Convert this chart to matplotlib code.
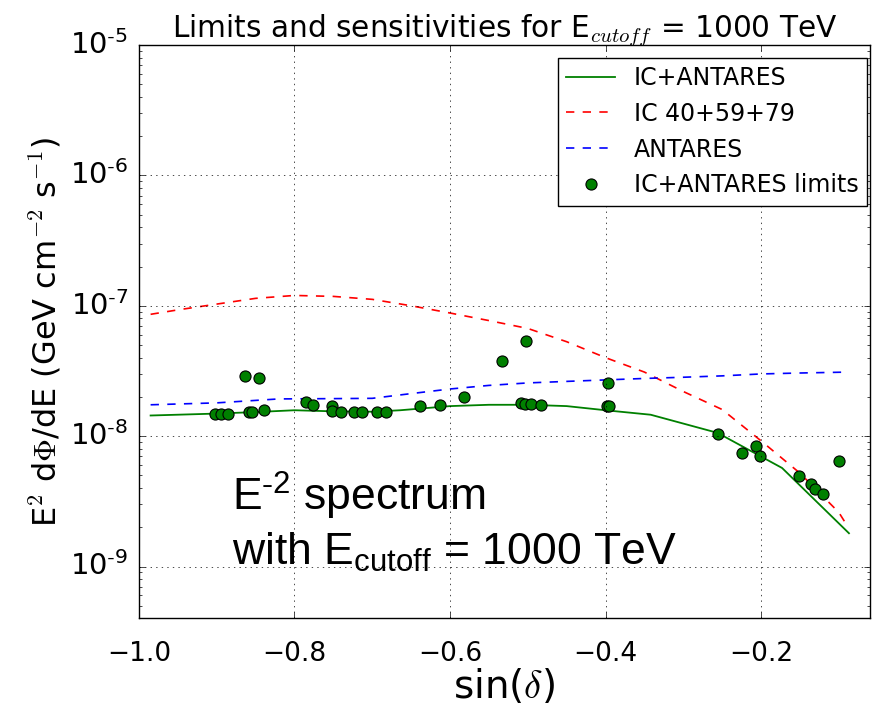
import numpy as np
import matplotlib
matplotlib.use("Agg")
import matplotlib.pyplot as plt
from matplotlib.ticker import FixedLocator, LogLocator, FuncFormatter, NullFormatter

plt.style.use('classic')
plt.rcParams['mathtext.fontset'] = 'cm'
plt.rcParams['font.family'] = ['DejaVu Sans']

# combined IC+ANTARES sensitivity
x_comb = [-0.985, -0.9, -0.85, -0.8, -0.75, -0.7, -0.664, -0.6, -0.55, -0.5,
          -0.45, -0.4, -0.342, -0.256, -0.173, -0.087]
y_comb = [1.44e-8, 1.49e-8, 1.53e-8, 1.58e-8, 1.55e-8, 1.54e-8, 1.58e-8, 1.7e-8,
          1.74e-8, 1.74e-8, 1.7e-8, 1.58e-8, 1.46e-8, 1.06e-8, 5.7e-9, 1.8e-9]

# IceCube 40+59+79
x_ic = [-0.985, -0.95, -0.9, -0.85, -0.8, -0.75, -0.7, -0.65, -0.6, -0.55,
        -0.5, -0.45, -0.4, -0.35, -0.3, -0.25, -0.2, -0.15, -0.1, -0.088]
y_ic = [8.6e-8, 9.3e-8, 1.03e-7, 1.14e-7, 1.2e-7, 1.18e-7, 1.12e-7, 1.0e-7,
        8.8e-8, 7.7e-8, 6.7e-8, 5.3e-8, 4.0e-8, 3.1e-8, 2.2e-8, 1.6e-8,
        9.2e-9, 5.2e-9, 2.6e-9, 2.0e-9]

# ANTARES
x_ant = [-0.985, -0.9, -0.82, -0.75, -0.7, -0.65, -0.6, -0.55, -0.5, -0.45,
         -0.4, -0.35, -0.3, -0.25, -0.2, -0.15, -0.088]
y_ant = [1.74e-8, 1.8e-8, 1.93e-8, 1.94e-8, 1.95e-8, 2.12e-8, 2.3e-8, 2.45e-8,
         2.56e-8, 2.63e-8, 2.7e-8, 2.77e-8, 2.83e-8, 2.9e-8, 3.0e-8, 3.05e-8, 3.1e-8]

# combined limits for the sources
x_lim = [-0.9016, -0.894, -0.885, -0.864, -0.845, -0.858, -0.854, -0.839,
         -0.785, -0.776, -0.7515, -0.7515, -0.74, -0.723, -0.713, -0.6945,
         -0.682, -0.638, -0.6135, -0.582, -0.533, -0.502, -0.5085, -0.503,
         -0.4965, -0.4836, -0.3965, -0.398, -0.396, -0.255, -0.225, -0.207,
         -0.2015, -0.1514, -0.1364, -0.131, -0.12, -0.1003]
y_lim = [1.47e-8, 1.47e-8, 1.48e-8, 2.91e-8, 2.77e-8, 1.52e-8, 1.54e-8, 1.6e-8,
         1.83e-8, 1.73e-8, 1.71e-8, 1.55e-8, 1.54e-8, 1.52e-8, 1.52e-8, 1.52e-8,
         1.52e-8, 1.69e-8, 1.73e-8, 2.01e-8, 3.74e-8, 5.4e-8, 1.78e-8, 1.77e-8,
         1.76e-8, 1.73e-8, 2.56e-8, 1.69e-8, 1.69e-8, 1.04e-8, 7.4e-9, 8.45e-9,
         7.1e-9, 4.92e-9, 4.27e-9, 3.96e-9, 3.58e-9, 6.45e-9]

x_ticks = [-1.0, -0.8, -0.6, -0.4, -0.2]
y_ticks = [1e-9, 1e-8, 1e-7, 1e-6, 1e-5]

fig = plt.figure(figsize=(8.85, 7.1), dpi=100, facecolor='white')
ax = fig.add_subplot(111)
fig.subplots_adjust(left=0.157, right=0.983, top=0.9366, bottom=0.129)

ax.plot(x_comb, y_comb, 'g-', lw=1.3, label='IC+ANTARES')
ax.plot(x_ic, y_ic, 'r--', lw=1.2, label='IC 40+59+79')
ax.plot(x_ant, y_ant, 'b--', lw=1.2, label='ANTARES')
ax.plot(x_lim, y_lim, 'o', color='g', mec='k', mew=0.8, ms=8,
        label='IC+ANTARES limits')

ax.set_yscale('log')
ax.set_xlim(-1.0, -0.06)
ax.set_ylim(4e-10, 1e-5)
ax.set_xticks(x_ticks)
ax.yaxis.set_major_locator(FixedLocator(y_ticks))
ax.yaxis.set_minor_locator(LogLocator(base=10, subs=np.arange(2, 10)))
ax.yaxis.set_major_formatter(FuncFormatter(
    lambda v, p: r'$\mathregular{10^{\text{-}%d}}$' % abs(int(round(np.log10(v))))))
ax.yaxis.set_minor_formatter(NullFormatter())
ax.grid(True, which='major', color='k', linestyle=':')
ax.tick_params(axis='x', labelsize=19, pad=16)
ax.tick_params(axis='y', labelsize=21, pad=8)

ax.set_xlabel(r'sin($\delta$)', fontsize=28, labelpad=0)
ax.set_ylabel(r'E$^2$ d$\Phi$/dE (GeV cm$^{-2}$ s$^{-1}$)', fontsize=23)
ax.set_title(r'Limits and sensitivities for E$_{cutoff}$ = 1000 TeV',
             fontsize=21.3, pad=6)

ax.text(0.127, 0.093,
        'E$\\mathregular{^{\\text{-}2}}$ spectrum\nwith E$\\mathregular{_{cutoff}}$ = 1000 TeV',
        transform=ax.transAxes, fontsize=32, family='Liberation Sans',
        ha='left', va='baseline', linespacing=1.27)

leg = ax.legend(loc='upper right', bbox_to_anchor=(0.996, 0.978),
                borderaxespad=0, numpoints=1, fontsize=17, fancybox=False,
                handlelength=2.08, handletextpad=0.8, labelspacing=0.5,
                borderpad=0.35)
leg.get_frame().set_edgecolor('k')

fig.savefig('out.png', dpi=100, facecolor='white')
